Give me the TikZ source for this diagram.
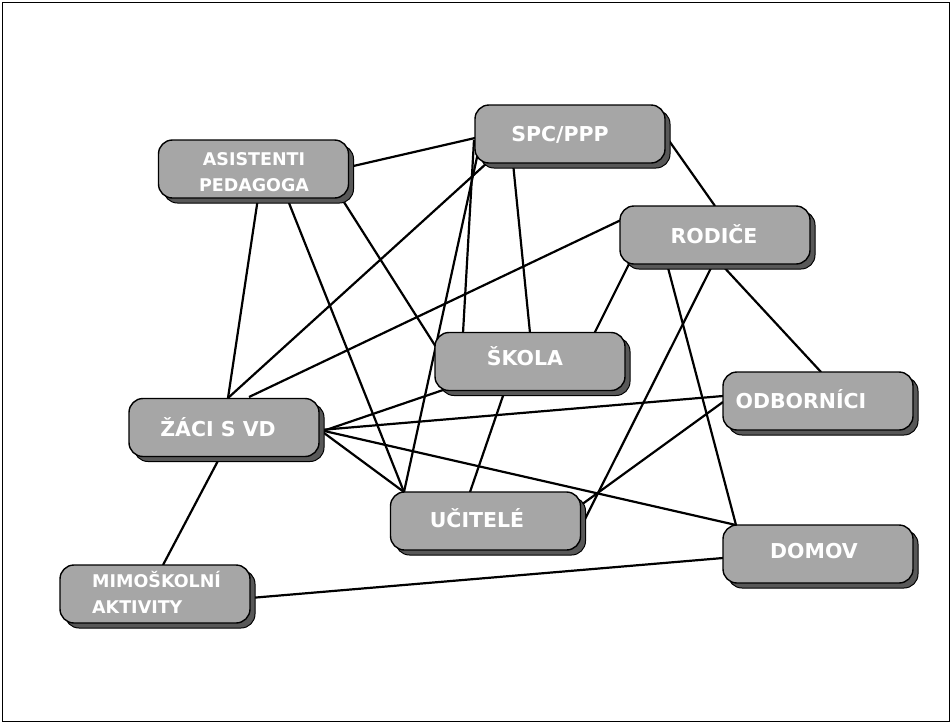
\documentclass[tikz,border=0pt]{standalone}
\usepackage{fontspec}
\newfontfamily\lblfont{DejaVu Sans}
\usetikzlibrary{calc,shadows,backgrounds}
\definecolor{boxgray}{RGB}{166,166,166}
\definecolor{shadgray}{RGB}{88,88,88}
\begin{document}
\begin{tikzpicture}[x=1pt,y=-1pt,
  box/.style={draw=black, line width=1.4pt, fill=boxgray, rounded corners=14pt,
    minimum width=190pt, minimum height=58pt, inner sep=0pt,
    drop shadow={shadow xshift=5pt, shadow yshift=-5pt, opacity=1, fill=shadgray, draw=black, line width=1pt}},
  lbl/.style={text=white, inner sep=0pt, anchor=base, font=\lblfont\bfseries\fontsize{20.5}{24}\selectfont},
  lblsmall/.style={text=white, inner sep=0pt, anchor=base, font=\lblfont\bfseries\fontsize{17.5}{20}\selectfont},
  conn/.style={draw=black, line width=2.2pt}]
\useasboundingbox (0,0) rectangle (952,724);
\draw[line width=1.2pt] (2.5,2.5) rectangle (949.5,721.5);

% boxes
\node[box] (asist) at (253.5,169) {};
\node[box] (spc) at (570,134) {};
\node[box] (rod) at (715,235) {};
\node[box] (skola) at (530,361.5) {};
\node[box] (odb) at (818,401) {};
\node[box] (zaci) at (224,427.5) {};
\node[box] (ucit) at (485.5,521) {};
\node[box] (domov) at (818,554) {};
\node[box] (mimo) at (155,594) {};

% labels
\node[lblsmall] (asistA) at (254,165) {ASISTENTI};
\node[lblsmall] (asistB) at (254,191) {PEDAGOGA};
\node[lbl] (spcT) at (560,141) {SPC/PPP};
\node[lbl] (rodT) at (714,243) {RODIČE};
\node[lbl] (skolaT) at (525,365) {ŠKOLA};
\node[lbl] (odbT) at (801,408) {ODBORNÍCI};
\node[lbl] (zaciT) at (218,436) {ŽÁCI S VD};
\node[lbl] (ucitT) at (477,527) {UČITELÉ};
\node[lbl] (domovT) at (814,558) {DOMOV};
\node[lblsmall, anchor=base west] (mimoA) at (92,587) {MIMOŠKOLNÍ};
\node[lblsmall, anchor=base west] (mimoB) at (92,613) {AKTIVITY};

\begin{pgfonlayer}{background}
\draw[conn] ($(asist.center)+(95.5,-2)$) -- ($(spc.center)+(-95,4)$);
\draw[conn] ($(asist.center)+(4.5,29)$) -- ($(zaci.center)+(4,-29.5)$);
\draw[conn] ($(asist.center)+(33.5,29)$) -- ($(ucit.center)+(-81.5,-29)$);
\draw[conn] ($(asist.center)+(88.5,30)$) -- ($(skola.center)+(-94,-14.5)$);
\draw[conn] ($(spc.center)+(-82,28)$) -- ($(zaci.center)+(4,-29.5)$);
\draw[conn] ($(spc.center)+(-96,6)$) -- ($(skola.center)+(-67,-28.5)$);
\draw[conn] ($(spc.center)+(-91,14)$) -- ($(ucit.center)+(-81.5,-29)$);
\draw[conn] ($(spc.center)+(-57,29)$) -- ($(skola.center)+(0,-28.5)$);
\draw[conn] ($(spc.center)+(95,1)$) -- ($(rod.center)+(0,-29)$);
\draw[conn] ($(rod.center)+(-94,-15)$) -- ($(zaci.center)+(25,-30.5)$);
\draw[conn] ($(rod.center)+(-86,29)$) -- ($(skola.center)+(64,-27.5)$);
\draw[conn] ($(rod.center)+(-48,29)$) -- ($(domov.center)+(-82,-29)$);
\draw[conn] ($(rod.center)+(-2,29)$) -- ($(ucit.center)+(97.5,2)$);
\draw[conn] ($(rod.center)+(6,29)$) -- ($(odb.center)+(3,-29)$);
\draw[conn] ($(zaci.center)+(96,4.5)$) -- ($(skola.center)+(-84,27.5)$);
\draw[conn] ($(zaci.center)+(96,2.5)$) -- ($(odb.center)+(-95,-5)$);
\draw[conn] ($(zaci.center)+(96,2.5)$) -- ($(ucit.center)+(-81.5,-29)$);
\draw[conn] ($(zaci.center)+(96,2.5)$) -- ($(domov.center)+(-82,-29)$);
\draw[conn] ($(zaci.center)+(-4,29.5)$) -- ($(mimo.center)+(8,-29)$);
\draw[conn] ($(skola.center)+(-25,28.5)$) -- ($(ucit.center)+(-15.5,-29)$);
\draw[conn] ($(odb.center)+(-95,1)$) -- ($(ucit.center)+(95.5,-16)$);
\draw[conn] ($(mimo.center)+(95,4)$) -- ($(domov.center)+(-95,4)$);
\end{pgfonlayer}
\end{tikzpicture}
\end{document}
